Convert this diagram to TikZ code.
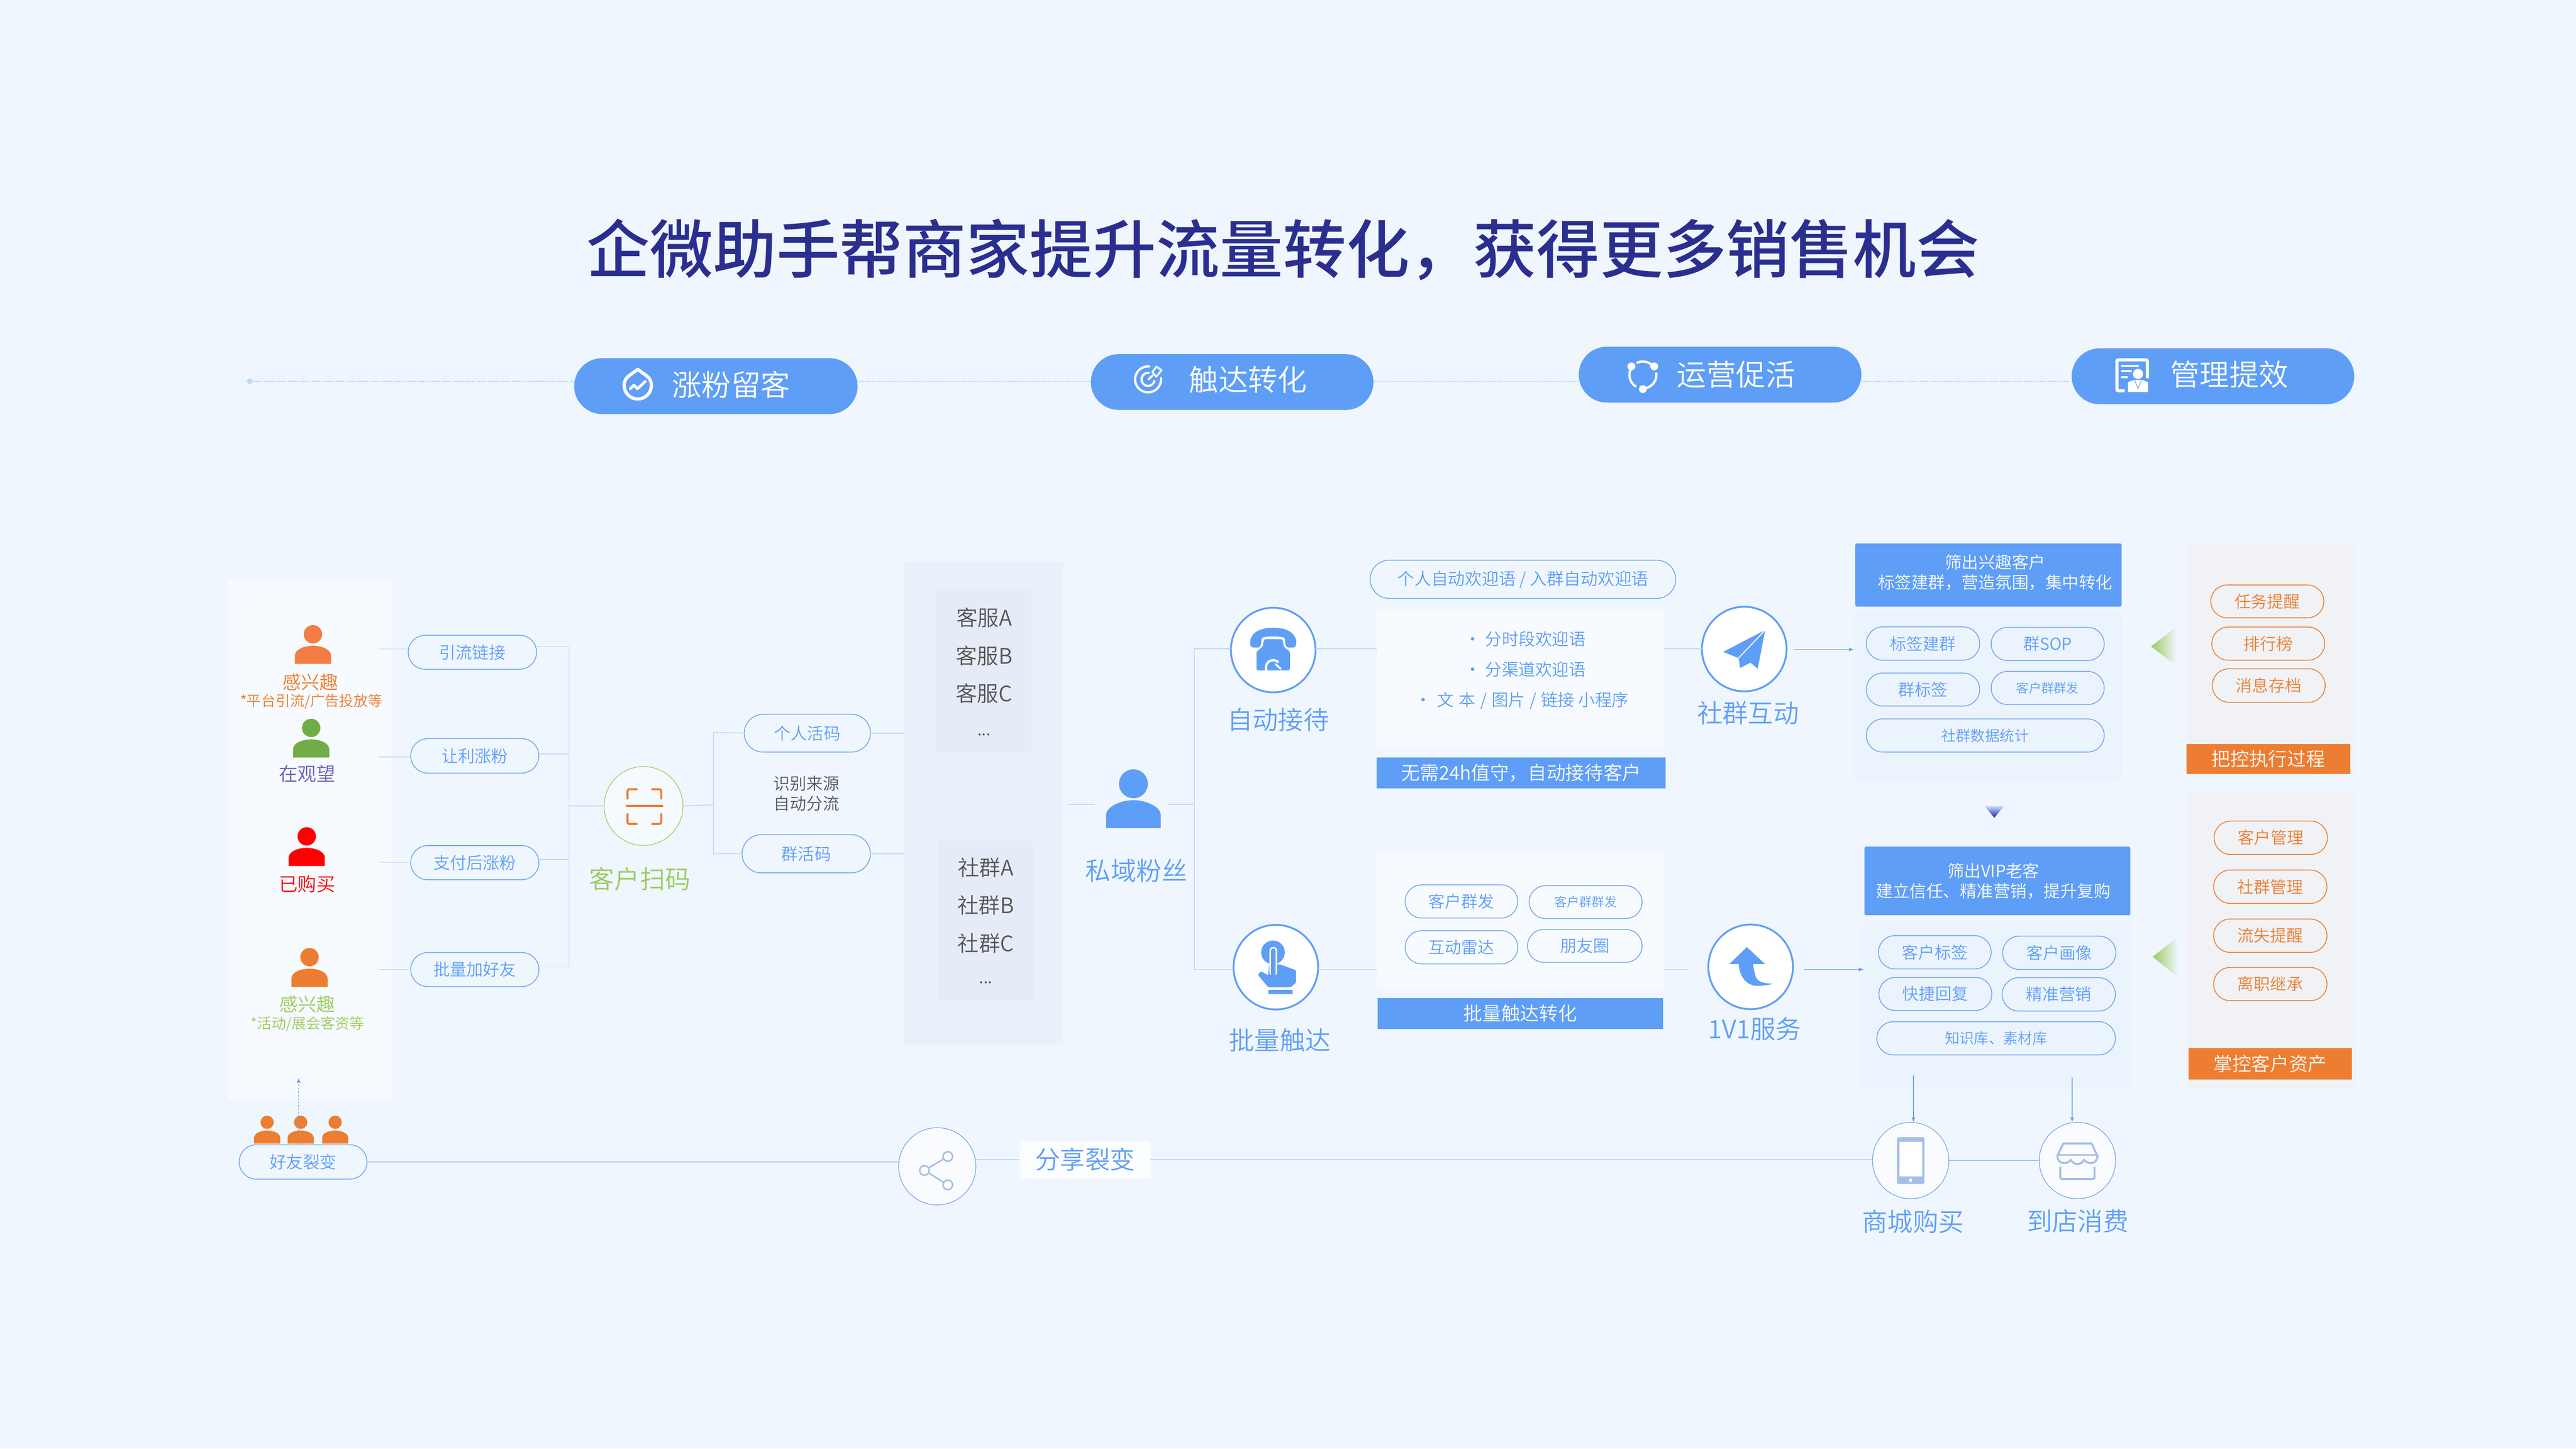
\documentclass[tikz,border=0pt]{standalone}
\usepackage{fontspec}
\setmainfont{Noto Sans CJK SC DemiLight}
\newfontface\titlefont{Noto Sans CJK SC Medium}
\usetikzlibrary{arrows.meta}
\definecolor{bgc}{HTML}{EFF6FE}
\definecolor{blu}{HTML}{5F9EF6}
\definecolor{plc}{HTML}{6FA5EE}
\definecolor{conc}{HTML}{BDD7F5}
\definecolor{lnc}{HTML}{9CC3F2}
\definecolor{tit}{HTML}{2A2F8F}
\definecolor{org}{HTML}{ED7D31}
\definecolor{grn}{HTML}{9BCB5E}
\definecolor{icb}{HTML}{A3BFE6}
\definecolor{gry}{HTML}{555555}
\definecolor{pnl}{HTML}{EAF0F9}
\definecolor{pni}{HTML}{E5ECF7}
\definecolor{pnr}{HTML}{F0F2F5}
\definecolor{pnb}{HTML}{EBF3FD}
\definecolor{perg}{HTML}{70AD47}
\definecolor{pero}{HTML}{F47C45}
\definecolor{purp}{HTML}{6A62B8}
\newcommand\fs[1]{\fontsize{#1mm}{#1mm}\selectfont}
\newcommand\fsl[2]{\fontsize{#1mm}{#2mm}\selectfont}
\newcommand\bx[7]{\node[#6,minimum width={(#3-#2)*1mm},minimum height={(#5-#4)*1mm},inner sep=0pt,outer sep=0pt] (#1) at ({(#2+#3)/2},{(#4+#5)/2}) {#7};}
\newcommand\pl[7]{\node[#6,minimum width={(#3-#2)*1mm},minimum height={(#5-#4)*1mm},inner sep=0pt,outer sep=0pt,rounded corners={(#5-#4)/2*1mm-0.02mm}] (#1) at ({(#2+#3)/2},{(#4+#5)/2}) {#7};}
\newcommand\tx[5]{\node[#4,inner sep=0pt,outer sep=0pt,align=center] (#1) at (#2,#3) {#5};}
\newcommand\person[4]{\begin{scope}[shift={(#1,#2)},scale=#3]
\fill[#4] (0,0) circle[radius=5.6];
\fill[#4] (-11,18) -- (-11,13) .. controls (-11,9) and (-5,7) .. (0,7) .. controls (5,7) and (11,9) .. (11,13) -- (11,18) -- cycle;
\end{scope}}
\tikzset{
 conn/.style={draw=conc,line width=0.5mm},
 lnb/.style={draw=lnc,line width=0.5mm},
 arr/.style={draw=plc,line width=0.5mm,-{Latex[length=3mm,width=2.6mm]}},
 bpill/.style={draw=plc,line width=0.5mm,text=blu,font=\fs{10.1}},
 opill/.style={draw=org,line width=0.5mm,text=org,font=\fs{10}},
 tpill/.style={fill=blu,text=white,font=\fs{18}},
 ringnode/.style={circle,draw=blu,line width=1.1mm,fill=white,minimum size=51.5mm,inner sep=0pt,outer sep=0pt},
 thinring/.style={circle,draw=plc,line width=0.4mm,fill=white!60!bgc,minimum size=46.5mm,inner sep=0pt,outer sep=0pt},
 label/.style={text=blu,font=\fs{15.5}},
 barb/.style={fill=blu,text=white,font=\fs{11.5}},
 baro/.style={fill=org,text=white,font=\fs{11.5}},
 hdr/.style={fill=blu,rounded corners=1mm},
 hdrt/.style={text=white,font=\fsl{10.2}{12.4}},
 wbox/.style={fill=white,fill opacity=0.55},
}
\begin{document}
\begin{tikzpicture}[x=1mm,y=-1mm]
\useasboundingbox (0,0) rectangle (1568,881.6);
\fill[bgc] (0,0) rectangle (1568,881.6);
% title
\tx{title}{781}{152}{text=tit,font=\fs{38.55}}{\titlefont 企微助手帮商家提升流量转化，获得更多销售机会}
% top row
\coordinate (dot) at (152,232);
\fill[conc] (dot) circle[radius=1.7];
\bx{t1}{349.5}{522}{218}{252}{draw=none}{}
\bx{t4}{1261}{1433}{212}{246}{draw=none}{}
\draw[draw=conc,line width=0.55mm,densely dotted] (dot) -- (dot -| t4.west);
\pl{t1}{349.5}{522}{218}{252}{tpill}{}
\pl{t2}{664}{836}{215.5}{249.5}{tpill}{}
\pl{t3}{961}{1133}{211}{245}{tpill}{}
\pl{t4}{1261}{1433}{212}{246}{tpill}{}
\tx{t1t}{445}{234}{text=white,font=\fs{18}}{涨粉留客}
\tx{t2t}{759.7}{231}{text=white,font=\fs{18}}{触达转化}
\tx{t3t}{1056.7}{228}{text=white,font=\fs{18}}{运营促活}
\tx{t4t}{1357}{228}{text=white,font=\fs{18}}{管理提效}
% icon drop
\begin{scope}[shift={(388.2,234.2)},x=1mm,y=1mm,draw=white,line cap=round,line join=round]
\draw[line width=2mm] (0,9.4) -- (-5.2,5.6) .. controls (-7.4,4) and (-8.3,2) .. (-8.3,-0.3) .. controls (-8.3,-5) and (-4.5,-8.6) .. (0,-8.6) .. controls (4.5,-8.6) and (8.3,-5) .. (8.3,-0.3) .. controls (8.3,2) and (7.4,4) .. (5.2,5.6) -- cycle;
\draw[line width=1.7mm] (-4.6,-2.4) -- (-2.3,-0.2) -- (-0.2,-2.4) -- (4.5,2);
\end{scope}
% icon target
\begin{scope}[shift={(698.8,230.9)},x=1mm,y=1mm,draw=white,line cap=round,line join=round]
\draw[line width=1.35mm] (5:7.9) arc[start angle=5,end angle=-275,radius=7.9];
\draw[line width=1.35mm] (85:4) arc[start angle=85,end angle=345,radius=4];
\draw[line width=1.2mm] (0.2,0) -- (2.8,2.4);
\draw[line width=1.1mm] (2.6,4.4) -- (5.1,7.8) -- (8.2,5.6) -- (5,1.6) -- cycle;
\end{scope}
% icon ring
\begin{scope}[shift={(1000,228.2)},x=1mm,y=1mm,draw=white,fill=white]
\draw[line width=1.4mm] (118:8.2) arc[start angle=118,end angle=37,radius=8.2];
\draw[line width=1.4mm] (10:8.2) arc[start angle=10,end angle=-90,radius=8.2];
\draw[line width=1.4mm] (240:8.2) arc[start angle=240,end angle=143,radius=8.2];
\fill (-7,5.2) circle[radius=2.4];
\fill (6.9,5.2) circle[radius=2.4];
\fill (0,-8.6) circle[radius=2.4];
\end{scope}
% icon report
\begin{scope}[shift={(1297.9,228.2)},x=1mm,y=1mm,draw=white,fill=white]
\draw[line width=1.9mm,rounded corners=1mm] (-4.6,-9.6) -- (-9.4,-9.6) -- (-9.4,9.2) -- (9.2,9.2) -- (9.2,-2);
\draw[line width=1.1mm,line cap=round] (-6.4,5.6) -- (3.5,5.6);
\draw[line width=1.1mm,line cap=round] (-6.4,2.4) -- (-0.8,2.4);
\draw[line width=1.1mm,line cap=round] (-6.4,-1.4) -- (-3.2,-1.4);
\fill (3.5,0.6) circle[radius=3.1];
\fill (-2.6,-10.4) -- (-2.6,-4.4) -- (0.9,-3) -- (6,-3) -- (9.6,-4.4) -- (9.6,-10.4) -- cycle;
\draw[blu,line width=0.35mm] (1.4,-3) -- (3.5,-8.4) -- (5.6,-3);
\end{scope}
% left panel
\bx{lp}{139}{239}{353}{669}{fill=white,fill opacity=0.55}{}
\person{190.5}{386}{1}{pero}
\tx{p1a}{189}{415}{text=org,font=\fs{11.3}}{感兴趣}
\tx{p1b}{189.5}{427}{text=org,font=\fs{8.8}}{*平台引流/广告投放等}
\person{189.4}{443}{1}{perg}
\tx{p2a}{187}{471}{text=purp,font=\fs{11.5}}{在观望}
\person{186.7}{509}{1}{red}
\tx{p3a}{187}{538}{text=red,font=\fs{11.5}}{已购买}
\person{188.4}{582.5}{1}{org}
\tx{p4a}{187}{611}{text=grn,font=\fs{11.3}}{感兴趣}
\tx{p4b}{187}{623}{text=grn,font=\fs{8.8}}{*活动/展会客资等}
% left pills
\pl{a1}{248.5}{326.6}{386.6}{407.3}{bpill}{引流链接}
\pl{a2}{250}{328}{449.5}{470.5}{bpill}{让利涨粉}
\pl{a3}{250}{328}{514.6}{535.4}{bpill}{支付后涨粉}
\pl{a4}{250}{328}{579.7}{600.4}{bpill}{批量加好友}
\coordinate (s1) at (230.7,395);
\coordinate (s2) at (230.7,460.7);
\coordinate (s3) at (230.7,524.8);
\coordinate (s4) at (230.7,590);
\draw[conn] (s1) -- (s1 -| a1.west);
\draw[conn] (s2) -- (s2 -| a2.west);
\draw[conn] (s3) -- (s3 -| a3.west);
\draw[conn] (s4) -- (s4 -| a4.west);
\coordinate (v1) at (346.4,393.4);
\coordinate (v2) at (346.4,458.7);
\coordinate (v3) at (346.4,523);
\coordinate (v4) at (346.4,588.4);
\coordinate (v5) at (346.4,490.5);
\draw[conn] (v1 -| a1.east) -- (v1) -- (v4) -- (v4 -| a4.east);
\draw[conn] (v2 -| a2.east) -- (v2);
\draw[conn] (v3 -| a3.east) -- (v3);
% scan
\node[circle,draw=grn,line width=0.4mm,fill=white!40!bgc,minimum size=48mm,inner sep=0pt,outer sep=0pt] (scan) at (391.7,490.5) {};
\draw[conn] (v5) -- (scan.west);
\begin{scope}[draw=org,line width=1.2mm,rounded corners=1mm]
\draw (388,480.3) -- (382,480.3) -- (382,486.5);
\draw (396.5,480.3) -- (402.5,480.3) -- (402.5,486.5);
\draw (382,495) -- (382,501.4) -- (388,501.4);
\draw (402.5,495) -- (402.5,501.4) -- (396.5,501.4);
\draw (381,490.5) -- (403.5,490.5);
\end{scope}
\tx{scanl}{389.5}{535}{text=grn,font=\fs{15.4}}{客户扫码}
% codes
\pl{b1}{453}{529.8}{434.7}{457.7}{bpill}{个人活码}
\pl{b2}{451.7}{529.8}{508}{531.2}{bpill}{群活码}
\tx{bt}{491}{483}{text=gry,font=\fsl{10}{12.2}}{识别来源\\自动分流}
\coordinate (w0) at (434.3,489.8);
\coordinate (w1) at (434.3,445.7);
\coordinate (w2) at (434.3,519.6);
\draw[conn] (scan.east) -- (w0);
\draw[conn] (b1.west) -- (w1) -- (w2) -- (b2.west);
% service panel
\bx{sp}{550.5}{647}{342.5}{635.8}{fill=pnl}{}
\bx{sa}{569.8}{627.7}{359.3}{457.5}{fill=pni}{}
\bx{sb}{571}{629}{511.8}{609.3}{fill=pni}{}
\draw[conn] (b1.east) -- (b1.east -| sp.west);
\draw[conn] (b2.east) -- (b2.east -| sp.west);
\tx{sa1}{599}{376}{text=gry,font=\fs{13}}{客服A}
\tx{sa2}{599}{399}{text=gry,font=\fs{13}}{客服B}
\tx{sa3}{599}{422}{text=gry,font=\fs{13}}{客服C}
\tx{sa4}{599}{447}{text=gry,font=\fs{10}}{...}
\tx{sb1}{600}{528}{text=gry,font=\fs{13}}{社群A}
\tx{sb2}{600}{551}{text=gry,font=\fs{13}}{社群B}
\tx{sb3}{600}{574}{text=gry,font=\fs{13}}{社群C}
\tx{sb4}{600}{598}{text=gry,font=\fs{10}}{...}
% fans
\coordinate (f1) at (650,489.5);
\coordinate (f2) at (666.5,489.5);
\coordinate (f3) at (710.6,489.5);
\coordinate (fv) at (727,489.5);
\draw[conn] (f1) -- (f2);
\draw[conn] (f3) -- (fv);
\begin{scope}[shift={(689.9,477)}]
\fill[blu] (0,0) circle[radius=8.8];
\fill[blu] (-16.6,27) -- (-16.6,19) .. controls (-16.6,14) and (-8,10) .. (0,10) .. controls (8,10) and (16.6,14) .. (16.6,19) -- (16.6,27) -- cycle;
\end{scope}
\tx{fl}{691.7}{530}{label}{私域粉丝}
% ring nodes
\node[ringnode] (auto) at (775,395.6) {};
\node[ringnode] (batch) at (776.6,588.6) {};
\node[ringnode] (grp) at (1061.7,395) {};
\node[ringnode] (one) at (1065.6,588.4) {};
\tx{autol}{778}{438}{label}{自动接待}
\tx{batchl}{779}{633}{label}{批量触达}
\tx{grpl}{1064}{434}{label}{社群互动}
\tx{onel}{1068}{626}{label}{1V1服务}
\coordinate (hu) at (727,394.8);
\coordinate (hd) at (727,590);
\draw[conn] (auto.west |- hu) -- (hu) -- (hd) -- (batch.west |- hd);
% phone icon
\begin{scope}[shift={(775,395.6)}]
\fill[blu,rounded corners=0.8mm] (-14,-3) .. controls (-14.5,-11) and (-7,-13.5) .. (0,-13.5) .. controls (7,-13.5) and (14.5,-11) .. (14,-3) -- (13,-1.5) -- (8.5,-1.5) -- (7.5,-3) -- (7,-7.5) .. controls (3,-8.5) and (-3,-8.5) .. (-7,-7.5) -- (-7.5,-3) -- (-8.5,-1.5) -- (-13,-1.5) -- cycle;
\fill[blu,rounded corners=1mm] (-5.6,-6.6) -- (5.6,-6.6) -- (6.4,-2) -- (10.2,1) -- (10.2,12.4) -- (-10.2,12.4) -- (-10.2,1) -- (-6.4,-2) -- cycle;
\draw[white,line width=1.4mm] (3.2,7.5) arc[start angle=-45,end angle=-325,radius=4.5];
\draw[white,line width=1.2mm,line cap=round] (1.5,8.6) -- (4.5,11.4);
\end{scope}
% hand icon
\begin{scope}[shift={(776.6,588.6)}]
\fill[blu] (-1.75,-9) circle[radius=7.2];
\fill[blu,rounded corners=0.8mm] (-11,4.5) -- (-9,2.5) -- (-4.7,5) -- (-4,-2) -- (2.6,-1.7) -- (12.3,1.9) -- (12.3,9.4) -- (9,12.2) -- (-4.7,12.2) -- cycle;
\draw[white,line width=4.7mm,line cap=round] (-1.5,-10) -- (-1.5,3);
\draw[blu,line width=2.9mm,line cap=round] (-1.5,-10) -- (-1.5,5);
\fill[blu] (-4.4,13.8) rectangle (10.2,16.4);
\end{scope}
% plane icon
\begin{scope}[shift={(1061.7,395)}]
\fill[blu] (12.8,-11.6) -- (-12.8,1.7) -- (-3.5,5.5) -- (-2.5,11.5) -- (3.8,8.3) -- (8.2,11.9) -- cycle;
\draw[white,line width=0.6mm] (12.8,-11.6) -- (-3.5,5.5);
\end{scope}
% up-turn arrow
\begin{scope}[shift={(1065.6,588.4)}]
\fill[blu] (-2.3,-12) -- (-13,-1.7) -- (-7.3,-1.7) .. controls (-7,5) and (-3,12.5) .. (6,11.5) .. controls (9,11.3) and (12,11) .. (13.4,10.2) .. controls (9,10.2) and (3.5,9.5) .. (2.9,5.3) .. controls (2.5,3) and (1.5,1) .. (1.5,-1.7) -- (8.8,-1.7) -- cycle;
\end{scope}
% reception boxes
\pl{wel}{834}{1020}{340.9}{364.2}{draw=plc,line width=0.5mm,text=blu,font=\fs{10.3}}{个人自动欢迎语 / 入群自动欢迎语}
\bx{wb1}{837.8}{1013}{370.7}{455.5}{wbox}{}
\tx{wb1a}{928.3}{389}{text=blu,font=\fs{10.2}}{• 分时段欢迎语}
\tx{wb1b}{928.3}{407.5}{text=blu,font=\fs{10.2}}{• 分渠道欢迎语}
\tx{wb1c}{926.3}{426.4}{text=blu,font=\fs{10.2}}{•\hspace{1mm} 文\hspace{.8mm} 本 \hspace{.6mm}/\hspace{.6mm} 图片 \hspace{.6mm}/\hspace{.6mm} 链接 小程序}
\bx{wb2}{837.8}{1014}{461}{479.8}{barb}{无需24h值守，自动接待客户}
\bx{bb1}{837.8}{1013}{519}{602}{wbox}{}
\pl{bp1}{855.3}{923.8}{538.5}{558.7}{bpill,font=\fs{10}}{客户群发}
\pl{bp2}{930.8}{999.5}{539}{559}{bpill,font=\fs{7.6}}{客户群群发}
\pl{bp3}{855.3}{923.8}{566.4}{586.6}{bpill,font=\fs{10}}{互动雷达}
\pl{bp4}{929.8}{999.5}{565.6}{585.7}{bpill,font=\fs{10}}{朋友圈}
\bx{bb2}{838.4}{1012.4}{607.4}{626.2}{barb}{批量触达转化}
\coordinate (c1) at (837.8,394.8);
\coordinate (c2) at (1013,394.8);
\coordinate (c3) at (837.8,590);
\coordinate (c4) at (1013,590);
\coordinate (c5) at (1028,590);
\coordinate (c6) at (1092,395.3);
\coordinate (c7) at (1098,590);
\draw[conn] (auto.east |- c1) -- (c1);
\draw[conn] (c2) -- (grp.west |- c2);
\draw[conn] (batch.east |- c3) -- (c3);
\draw[conn] (c4) -- (c5);
% top-right group
\bx{up}{1128.5}{1291.8}{372.6}{474.6}{fill=pnb}{}
\bx{uh}{1129.3}{1291.4}{330.7}{369.2}{hdr}{}
\tx{uht}{1214.5}{348.4}{hdrt}{筛出兴趣客户\\标签建群，营造氛围，集中转化}
\pl{u1}{1136}{1205}{381.5}{401.8}{bpill,font=\fs{10}}{标签建群}
\pl{u2}{1212}{1280.8}{381.8}{402}{bpill,font=\fs{10}}{群SOP}
\pl{u3}{1136}{1205}{409.6}{429.7}{bpill,font=\fs{10}}{群标签}
\pl{u4}{1212}{1280.8}{408.6}{428.8}{bpill,font=\fs{7.6}}{客户群群发}
\pl{u5}{1136}{1280.8}{437.5}{457.7}{bpill,font=\fs{8.9}}{社群数据统计}
\coordinate (u0) at (1128.5,395.3);
\draw[arr] (c6) -- (u0);
\shade[top color=blu!25!bgc,bottom color=tit!70!blue] (1208,490.5) -- (1219.8,490.5) -- (1213.9,497.7) -- cycle;
% lower group
\bx{dp}{1133.5}{1296.7}{560.4}{662.8}{fill=pnb}{}
\bx{dh}{1134.9}{1296.7}{515.2}{557}{hdr}{}
\tx{dht}{1213.4}{536.2}{hdrt}{筛出VIP老客\\建立信任、精准营销，提升复购}
\pl{d1}{1143.4}{1212}{569.4}{589.7}{bpill,font=\fs{10}}{客户标签}
\pl{d2}{1219}{1287.9}{569.7}{590}{bpill,font=\fs{10}}{客户画像}
\pl{d3}{1143.7}{1212.4}{594.8}{615}{bpill,font=\fs{10}}{快捷回复}
\pl{d4}{1218.7}{1287.6}{595}{615.3}{bpill,font=\fs{10}}{精准营销}
\pl{d5}{1142.4}{1287.6}{621.8}{642}{bpill,font=\fs{8.9}}{知识库、素材库}
\coordinate (d0) at (1134.5,590);
\draw[arr] (c7) -- (d0);
% right panels
\bx{rp1}{1331}{1433}{330.7}{471}{fill=pnr}{}
\bx{rb1}{1331}{1430.5}{452.7}{471}{baro}{把控执行过程}
\pl{r1}{1345.7}{1414.5}{356}{376}{opill}{任务提醒}
\pl{r2}{1346.3}{1415}{381.6}{401.8}{opill}{排行榜}
\pl{r3}{1346.6}{1415.3}{407}{427.4}{opill}{消息存档}
\bx{rp2}{1331}{1433}{483}{662.8}{fill=pnr}{}
\bx{rb2}{1332}{1431.7}{638}{657}{baro}{掌控客户资产}
\pl{r4}{1347.7}{1416.7}{499.7}{520}{opill}{客户管理}
\pl{r5}{1347.4}{1416.4}{529.5}{549.8}{opill}{社群管理}
\pl{r6}{1347.4}{1416.4}{559.3}{579.6}{opill}{流失提醒}
\pl{r7}{1347.4}{1416.4}{588.8}{609}{opill}{离职继承}
\shade[left color=grn,right color=bgc] (1309.3,393.4) -- (1325,381.3) -- (1325,405.4) -- cycle;
\shade[left color=grn,right color=bgc] (1310.3,582.3) -- (1325.5,570.3) -- (1325.5,594.5) -- cycle;
% bottom row
\pl{ff}{145.6}{223.4}{696.7}{717.6}{bpill,font=\fs{10.2}}{好友裂变}
\person{162.6}{683}{0.72}{org}
\person{183}{683}{0.72}{org}
\person{204}{683}{0.72}{org}
\coordinate (ffa) at (181.8,656);
\draw[draw=blu,line width=0.45mm,dashed,-{Latex[length=3mm,width=2.6mm]}] (ffa |- ff.north) -- (ffa);
\node[thinring,minimum size=47mm] (share) at (570.5,709.8) {};
\bx{tag}{620.6}{700.4}{694.2}{717.2}{fill=white,fill opacity=0.8,text opacity=1,text=blu,font=\fs{15.2}}{分享裂变}
\node[thinring] (shop) at (1163,706.3) {};
\node[thinring] (store) at (1264.5,706.3) {};
\draw[lnb] (ff.east) -- (share.west |- ff.east);
\draw[lnb] (share.east |- tag.west) -- (tag.west);
\draw[lnb] (tag.east) -- (tag.east -| shop.west);
\draw[lnb] (shop.east) -- (store.west);
\tx{shopl}{1164.5}{743.5}{label}{商城购买}
\tx{storel}{1264.7}{743}{label}{到店消费}
\coordinate (e1) at (1164.7,654.4);
\coordinate (e2) at (1261.3,655.8);
\draw[arr] (e1) -- (e1 |- shop.north);
\draw[arr] (e2) -- (e2 |- store.north);
% share icon
\begin{scope}[shift={(570.5,709.8)},draw=icb,line width=0.9mm]
\draw (6.4,-6) -- (-7.8,2.5) -- (6.4,11.3);
\draw[fill=white] (6.4,-6) circle[radius=2.9];
\draw[fill=white] (-7.8,2.5) circle[radius=2.9];
\draw[fill=white] (6.4,11.3) circle[radius=2.9];
\end{scope}
% mobile icon
\begin{scope}[shift={(1163,706.3)}]
\fill[icb,rounded corners=1mm] (-8.4,-14.2) rectangle (8.4,14.2);
\fill[white] (-6.9,-11.4) rectangle (6.9,9.6);
\fill[white] (0,12) circle[radius=1];
\end{scope}
% store icon
\begin{scope}[shift={(1264.5,706.3)},draw=icb,line width=1.2mm,line join=round]
\draw (-8.6,-10.4) -- (8.6,-10.4) -- (12.2,-2.8) .. controls (12.2,2) and (6.5,3) .. (4,-0.5) .. controls (2.5,3) and (-2.5,3) .. (-4,-0.5) .. controls (-6.5,3) and (-12.2,2) .. (-12.2,-2.8) -- cycle;
\draw (-12.2,-3.4) -- (12.2,-3.4);
\draw[rounded corners=1mm] (-10.4,3.7) -- (-10.4,11.2) -- (10.4,11.2) -- (10.4,3.7);
\end{scope}
\end{tikzpicture}
\end{document}
